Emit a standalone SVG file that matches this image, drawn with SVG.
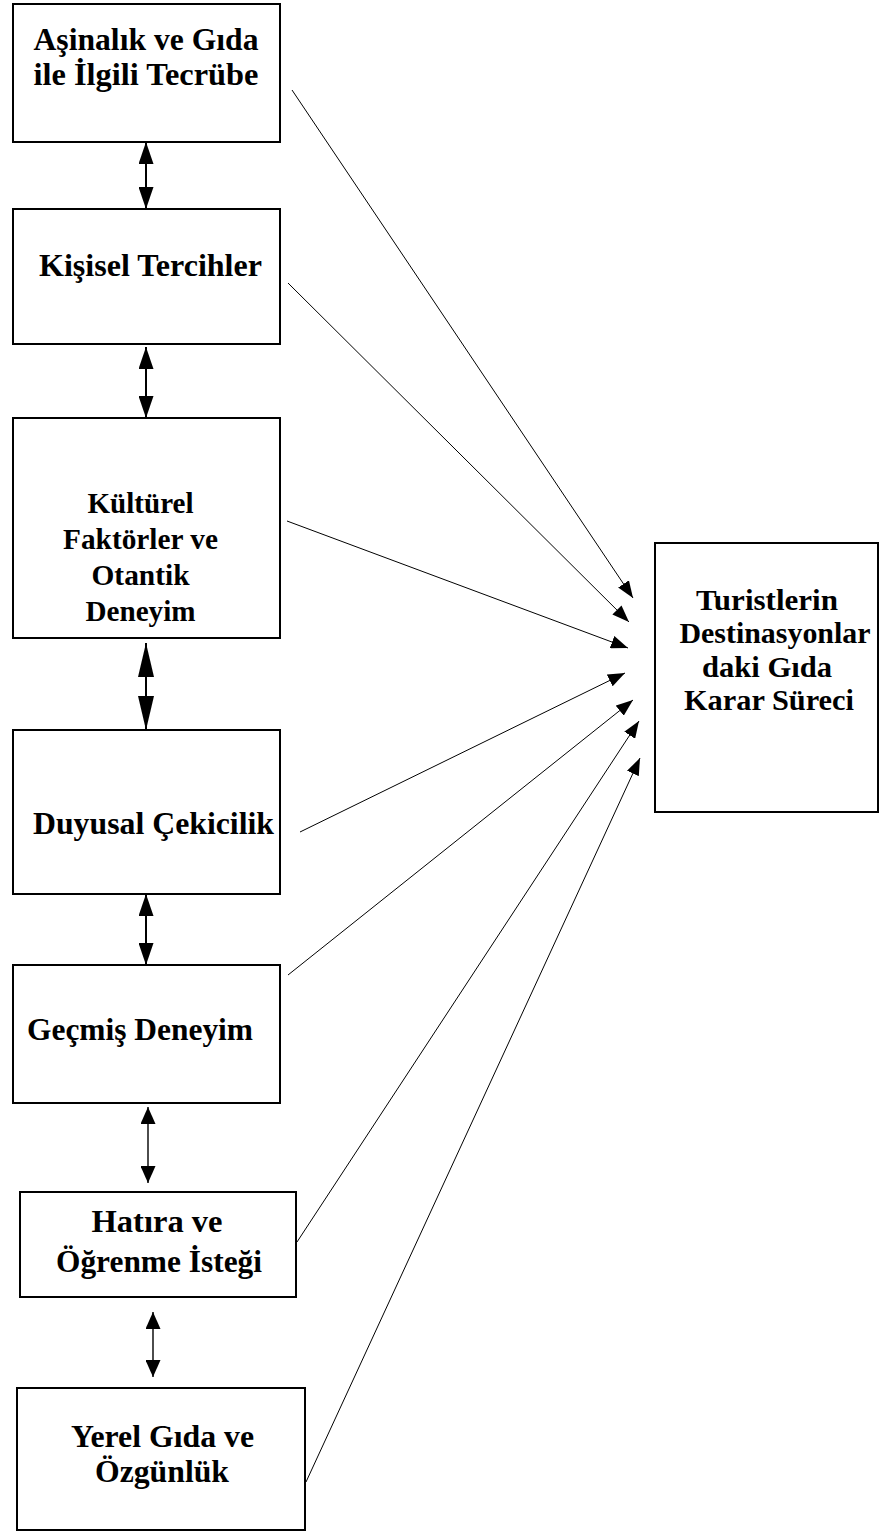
<svg xmlns="http://www.w3.org/2000/svg" width="886" height="1533" viewBox="0 0 886 1533">
<style>
.box{fill:#fff;stroke:#000;stroke-width:2}
text{font-family:'Liberation Serif','Times New Roman',Times,serif;font-weight:700;font-size:32px;fill:#000;text-anchor:middle}
.ts{font-size:29px}
.tr{font-size:30px}
.c{stroke:#000;stroke-width:1;fill:none}
.d{stroke:#000;stroke-width:2;fill:none}
.d2{stroke:#000;stroke-width:1.4;fill:none}
</style>
<defs>
<marker id="ah" markerUnits="userSpaceOnUse" markerWidth="17" markerHeight="13" refX="17" refY="6.5" orient="auto"><path d="M0,0 L17,6.5 L0,13 z" fill="#000"/></marker>
<marker id="dA" markerUnits="userSpaceOnUse" markerWidth="22" markerHeight="15" refX="22" refY="7.5" orient="auto-start-reverse"><path d="M0,0 L22,7.5 L0,15 z" fill="#000"/></marker>
<marker id="dB" markerUnits="userSpaceOnUse" markerWidth="34" markerHeight="16" refX="34" refY="8" orient="auto-start-reverse"><path d="M0,0 L34,8 L0,16 z" fill="#000"/></marker>
<marker id="dC" markerUnits="userSpaceOnUse" markerWidth="17" markerHeight="15" refX="17" refY="7.5" orient="auto-start-reverse"><path d="M0,0 L17,7.5 L0,15 z" fill="#000"/></marker>
</defs>
<rect width="886" height="1533" fill="#fff"/>
<g id="n1"><rect class="box" x="13" y="4" width="267" height="138"/><text x="146" y="50" textLength="225" lengthAdjust="spacingAndGlyphs">Aşinalık ve Gıda</text><text x="146" y="85" textLength="225" lengthAdjust="spacingAndGlyphs">ile İlgili Tecrübe</text></g>
<g id="n2"><rect class="box" x="13" y="209" width="267" height="135"/><text x="150.5" y="276" textLength="223" lengthAdjust="spacingAndGlyphs">Kişisel Tercihler</text></g>
<g id="n3"><rect class="box" x="13" y="418" width="267" height="220"/><text class="ts" x="140.5" y="513" textLength="106" lengthAdjust="spacingAndGlyphs">Kültürel</text><text class="ts" x="140.5" y="549" textLength="155" lengthAdjust="spacingAndGlyphs">Faktörler ve</text><text class="ts" x="140.5" y="585" textLength="98" lengthAdjust="spacingAndGlyphs">Otantik</text><text class="ts" x="140.5" y="621" textLength="110" lengthAdjust="spacingAndGlyphs">Deneyim</text></g>
<g id="n4"><rect class="box" x="13" y="730" width="267" height="164"/><text x="153.5" y="834" textLength="241" lengthAdjust="spacingAndGlyphs">Duyusal Çekicilik</text></g>
<g id="n5"><rect class="box" x="13" y="965" width="267" height="138"/><text x="140" y="1040" textLength="226" lengthAdjust="spacingAndGlyphs">Geçmiş Deneyim</text></g>
<g id="n6"><rect class="box" x="20" y="1192" width="276" height="105"/><text x="157" y="1232" textLength="131" lengthAdjust="spacingAndGlyphs">Hatıra ve</text><text x="159" y="1272" textLength="206" lengthAdjust="spacingAndGlyphs">Öğrenme İsteği</text></g>
<g id="n7"><rect class="box" x="17" y="1388" width="288" height="142"/><text x="162.5" y="1447" textLength="183" lengthAdjust="spacingAndGlyphs">Yerel Gıda ve</text><text x="162" y="1482" textLength="134" lengthAdjust="spacingAndGlyphs">Özgünlük</text></g>
<g id="n8"><rect class="box" x="655" y="543" width="223" height="269"/><text class="tr" x="767" y="610" textLength="142" lengthAdjust="spacingAndGlyphs">Turistlerin</text><text class="tr" x="775" y="643" textLength="191" lengthAdjust="spacingAndGlyphs">Destinasyonlar</text><text class="tr" x="767" y="677" textLength="130" lengthAdjust="spacingAndGlyphs">daki Gıda</text><text class="tr" x="769" y="710" textLength="170" lengthAdjust="spacingAndGlyphs">Karar Süreci</text></g>
<g id="connectors">
<line class="c" x1="292" y1="90" x2="633" y2="598" marker-end="url(#ah)"/>
<line class="c" x1="288" y1="283" x2="629" y2="622" marker-end="url(#ah)"/>
<line class="c" x1="287" y1="521" x2="628" y2="648" marker-end="url(#ah)"/>
<line class="c" x1="300" y1="832" x2="625" y2="673" marker-end="url(#ah)"/>
<line class="c" x1="288" y1="975" x2="633" y2="700" marker-end="url(#ah)"/>
<line class="c" x1="297" y1="1242" x2="639" y2="721" marker-end="url(#ah)"/>
<line class="c" x1="306" y1="1482" x2="640" y2="758" marker-end="url(#ah)"/>
<line class="d" x1="146" y1="142" x2="146" y2="209" marker-start="url(#dA)" marker-end="url(#dA)"/>
<line class="d" x1="146" y1="347" x2="146" y2="418" marker-start="url(#dA)" marker-end="url(#dA)"/>
<line class="d" x1="146" y1="643" x2="146" y2="730" marker-start="url(#dB)" marker-end="url(#dB)"/>
<line class="d" x1="146" y1="894" x2="146" y2="965" marker-start="url(#dA)" marker-end="url(#dA)"/>
<line class="d2" x1="148" y1="1107" x2="148" y2="1183" marker-start="url(#dC)" marker-end="url(#dC)"/>
<line class="d2" x1="153" y1="1312" x2="153" y2="1377" marker-start="url(#dC)" marker-end="url(#dC)"/>
</g>
</svg>
